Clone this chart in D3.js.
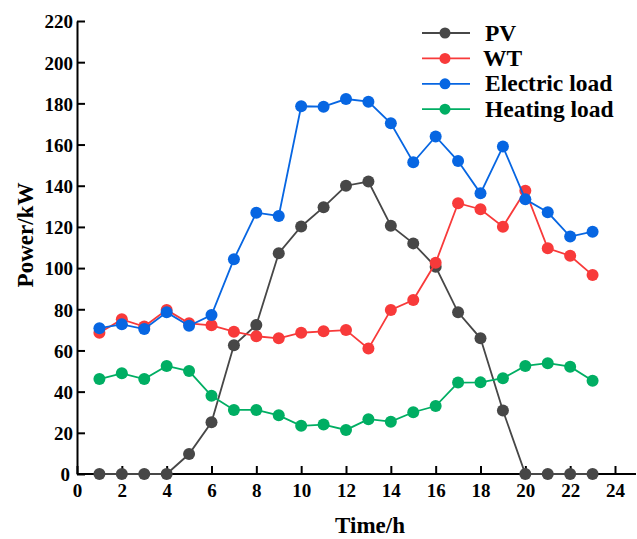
<!DOCTYPE html>
<html>
<head>
<meta charset="utf-8">
<script src="https://cdn.jsdelivr.net/npm/d3@7"></script>
<style>
  body { margin: 0; background: #fff; }
  text { font-family: "Liberation Serif", "Times New Roman", serif; font-weight: bold; fill: #000; }
</style>
</head>
<body>
<svg id="chart"></svg>
<script>
// Hours 1..23 and the four series.
const hours = d3.range(1, 24);
const pv = [0, 0, 0, 0, 9.7, 25.1, 62.5, 72.4, 107.2, 120.2, 129.6, 140.0, 142.0, 120.6, 112.0, 100.6, 78.5, 65.9, 30.8, 0, 0, 0, 0];
const wt = [68.6, 75.1, 71.6, 79.7, 73.2, 72.2, 69.1, 66.9, 65.9, 68.6, 69.3, 69.9, 60.9, 79.7, 84.5, 102.6, 131.5, 128.6, 120.1, 137.6, 109.6, 106.0, 96.6];
const elec = [70.8, 72.7, 70.4, 78.5, 72.0, 77.2, 104.3, 126.9, 125.3, 178.6, 178.4, 182.1, 180.8, 170.3, 151.4, 163.9, 152.0, 136.3, 159.0, 133.4, 127.1, 115.3, 117.7];
const heat = [46.1, 48.9, 46.1, 52.5, 50.0, 38.0, 31.1, 31.1, 28.5, 23.4, 24.0, 21.4, 26.6, 25.4, 30.0, 33.0, 44.4, 44.5, 46.5, 52.5, 53.8, 52.1, 45.3];

const seriesNames = ["PV", "WT", "Electric load", "Heating load"];
const seriesColors = ["#474747", "#f83a3a", "#0766e2", "#00ae63"];
const seriesData = [pv, wt, elec, heat];

const xTicks = d3.range(0, 25, 2);
const yTicks = d3.range(0, 221, 20);

const width = 637, height = 539;
const svg = d3.select("#chart").attr("width", width).attr("height", height);

const x = d3.scaleLinear().domain([0, 24]).range([77, 615]);
const y = d3.scaleLinear().domain([0, 220]).range([474, 21]);

// x axis: line runs past 24 to the right edge, ticks point inward
const xAxis = svg.append("g").attr("transform", "translate(0,474)")
  .call(d3.axisBottom(x).tickValues(xTicks).tickSizeInner(-8).tickSizeOuter(0).tickPadding(10));
xAxis.select(".domain").attr("d", "M77,0H636");
xAxis.selectAll("line").attr("stroke", "#000").attr("stroke-width", 2);
xAxis.select(".domain").attr("stroke", "#000").attr("stroke-width", 2);
xAxis.selectAll("text").style("font-size", "19px");

const yAxis = svg.append("g").attr("transform", "translate(77,0)")
  .call(d3.axisLeft(y).tickValues(yTicks).tickSizeInner(-8).tickSizeOuter(0).tickPadding(4));
yAxis.selectAll("line").attr("stroke", "#000").attr("stroke-width", 2);
yAxis.select(".domain").attr("stroke", "#000").attr("stroke-width", 2);
yAxis.selectAll("text").style("font-size", "19px").attr("dy", "0.36em");
yAxis.selectAll("text").filter(d => d === 0).attr("dx", "-3");

// axis titles
svg.append("text").attr("x", 370).attr("y", 533).attr("text-anchor", "middle")
  .style("font-size", "23px").text("Time/h");
svg.append("text").attr("transform", "translate(33,235) rotate(-90)")
  .attr("text-anchor", "middle").style("font-size", "23px").text("Power/kW");

// lines + markers
const line = d3.line().x((d, i) => x(hours[i])).y(d => y(d));
seriesData.forEach((vals, k) => {
  const g = svg.append("g");
  g.append("path").datum(vals).attr("d", line)
    .attr("fill", "none").attr("stroke", seriesColors[k]).attr("stroke-width", 1.8);
  g.selectAll("circle").data(vals).enter().append("circle")
    .attr("cx", (d, i) => x(hours[i])).attr("cy", d => y(d))
    .attr("r", 6).attr("fill", seriesColors[k]);
});

// legend
const legend = svg.append("g");
seriesNames.forEach((name, k) => {
  const yy = 33 + k * 25.4;
  legend.append("line").attr("x1", 422).attr("x2", 470).attr("y1", yy).attr("y2", yy)
    .attr("stroke", seriesColors[k]).attr("stroke-width", 1.8);
  legend.append("circle").attr("cx", 445).attr("cy", yy).attr("r", 5.5).attr("fill", seriesColors[k]);
  legend.append("text").attr("x", k === 1 ? 483 : 485).attr("y", yy + 7.5)
    .style("font-size", "23.5px").text(name);
});
</script>
</body>
</html>
